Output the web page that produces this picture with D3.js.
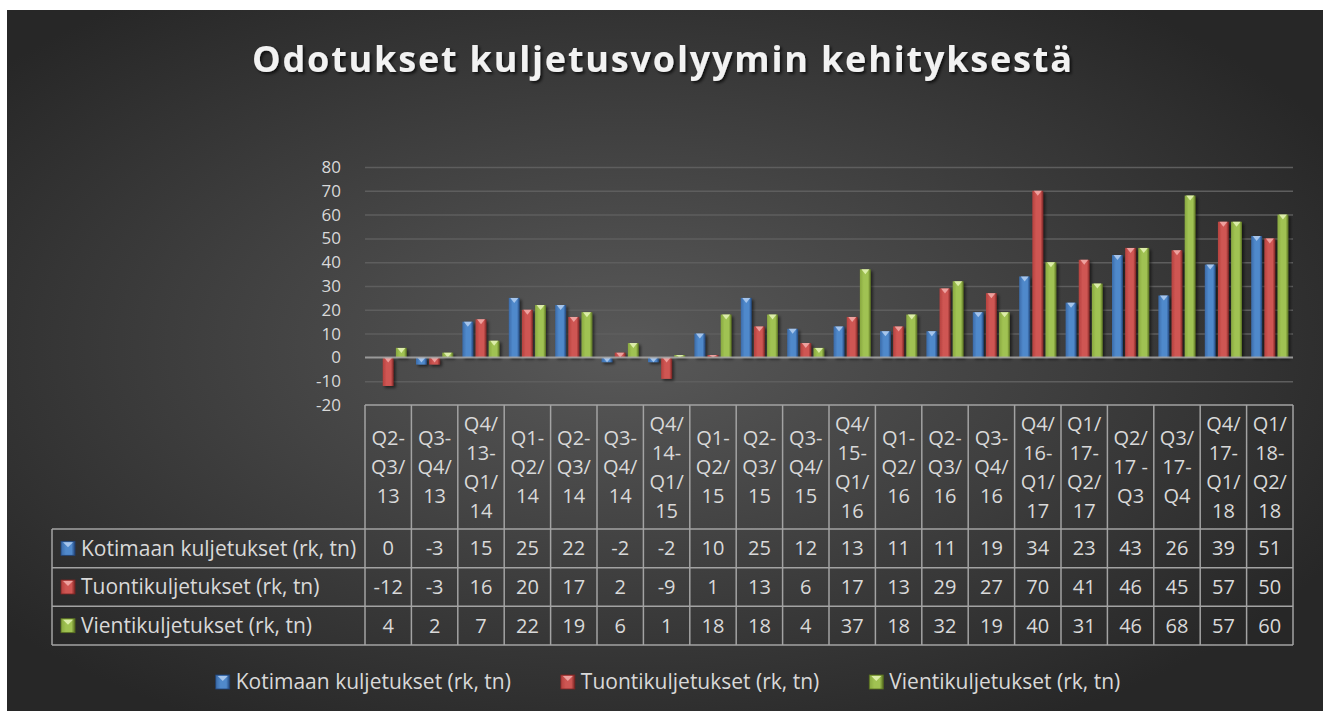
<!DOCTYPE html>
<html>
<head>
<meta charset="utf-8">
<script src="https://cdn.jsdelivr.net/npm/d3@7"></script>
<style>
body { margin: 0; background: #fff; }
svg text { font-family: "Open Sans", sans-serif; }
</style>
</head>
<body>
<div id="chart-area"></div>
<script>

// data
var categories = [
	"Q2-\nQ3/\n13", "Q3-\nQ4/\n13", "Q4/\n13-\nQ1/\n14", "Q1-\nQ2/\n14", "Q2-\nQ3/\n14",
	"Q3-\nQ4/\n14", "Q4/\n14-\nQ1/\n15", "Q1-\nQ2/\n15", "Q2-\nQ3/\n15", "Q3-\nQ4/\n15",
	"Q4/\n15-\nQ1/\n16", "Q1-\nQ2/\n16", "Q2-\nQ3/\n16", "Q3-\nQ4/\n16", "Q4/\n16-\nQ1/\n17",
	"Q1/\n17-\nQ2/\n17", "Q2/\n17 -\nQ3", "Q3/\n17-\nQ4", "Q4/\n17-\nQ1/\n18", "Q1/\n18-\nQ2/\n18"
];
var seriesNames = ["Kotimaan kuljetukset (rk, tn)", "Tuontikuljetukset (rk, tn)", "Vientikuljetukset (rk, tn)"];
var kotimaan = [0, -3, 15, 25, 22, -2, -2, 10, 25, 12, 13, 11, 11, 19, 34, 23, 43, 26, 39, 51];
var tuonti = [-12, -3, 16, 20, 17, 2, -9, 1, 13, 6, 17, 13, 29, 27, 70, 41, 46, 45, 57, 50];
var vienti = [4, 2, 7, 22, 19, 6, 1, 18, 18, 4, 37, 18, 32, 19, 40, 31, 46, 68, 57, 60];
var yTicks = [-20, -10, 0, 10, 20, 30, 40, 50, 60, 70, 80];
var title = "Odotukset kuljetusvolyymin kehityksestä";

var series = [kotimaan, tuonti, vienti];

// colours: [left edge, middle, right edge, top triangle]
var seriesColors = [
	["#3b6ba9", "#5089cb", "#22457a", "#b5d0f2"],
	["#b5413e", "#cf5653", "#7c2523", "#f3aeac"],
	["#88a840", "#a0c252", "#586f20", "#e6f4b8"]
];

var width = 1323,
	height = 711;

var plot = {left: 365, right: 1293, top: 167, bottom: 405};
var table = {left: 52, header: 529, bottom: 645, labelX: 81, markerX: 61};
var textColor = "#d9d9d9";
var lineColor = "#a3a3a3";

var svg = d3.select("#chart-area").append("svg")
	.attr("width", width)
	.attr("height", height);

var defs = svg.append("defs");

var bg = defs.append("radialGradient")
	.attr("id", "bg")
	.attr("cx", "47%").attr("cy", "48%").attr("r", "62%");
bg.append("stop").attr("offset", "0%").attr("stop-color", "#595959");
bg.append("stop").attr("offset", "100%").attr("stop-color", "#272727");

seriesColors.forEach(function(c, s) {
	var gr = defs.append("linearGradient")
		.attr("id", "grad" + s)
		.attr("x1", "0%").attr("x2", "100%").attr("y1", "0%").attr("y2", "0%");
	gr.append("stop").attr("offset", "0%").attr("stop-color", c[0]);
	gr.append("stop").attr("offset", "35%").attr("stop-color", c[1]);
	gr.append("stop").attr("offset", "75%").attr("stop-color", c[1]);
	gr.append("stop").attr("offset", "100%").attr("stop-color", c[2]);
});

var shadow = defs.append("filter").attr("id", "shadow")
	.attr("x", "-20%").attr("y", "-20%").attr("width", "160%").attr("height", "160%");
shadow.append("feDropShadow")
	.attr("dx", 2).attr("dy", 2).attr("stdDeviation", 1.5)
	.attr("flood-color", "#000").attr("flood-opacity", 0.55);

var titleShadow = defs.append("filter").attr("id", "tshadow");
titleShadow.append("feDropShadow")
	.attr("dx", 2).attr("dy", 2).attr("stdDeviation", 1.5)
	.attr("flood-color", "#000").attr("flood-opacity", 0.7);

// background
svg.append("rect")
	.attr("x", 7).attr("y", 10)
	.attr("width", width - 7).attr("height", height - 10)
	.attr("fill", "url(#bg)");

// title
svg.append("text")
	.attr("x", 662).attr("y", 72)
	.attr("text-anchor", "middle")
	.attr("font-size", 36)
	.attr("font-weight", "bold")
	.attr("fill", "#f2f2f2")
	.attr("textLength", 820)
	.attr("lengthAdjust", "spacing")
	.attr("filter", "url(#tshadow)")
	.text(title);

// scales
var x = d3.scaleBand()
	.domain(d3.range(categories.length))
	.range([plot.left, plot.right]);

var xs = d3.scaleBand()
	.domain(d3.range(series.length))
	.range([0, x.bandwidth()])
	.paddingInner(0.17)
	.paddingOuter(0.35);

var y = d3.scaleLinear()
	.domain([-20, 80])
	.range([plot.bottom, plot.top]);

// gridlines
svg.append("g")
	.attr("transform", "translate(" + plot.left + ",0)")
	.call(d3.axisLeft(y)
		.tickValues(yTicks.filter(function(v) { return v > -20 && v != 0; }))
		.tickSize(-(plot.right - plot.left))
		.tickFormat(""))
	.call(function(g) { g.select(".domain").remove(); })
	.selectAll("line")
	.attr("stroke", "#5e5e5e")
	.attr("stroke-width", 1.5);

// y labels (plain hyphen for negatives like the original)
var yAxis = svg.append("g")
	.attr("transform", "translate(" + plot.left + ",0)")
	.call(d3.axisLeft(y).tickValues(yTicks).tickSize(0).tickPadding(24)
		.tickFormat(function(d) { return String(d); }))
	.call(function(g) { g.select(".domain").remove(); });
yAxis.attr("font-size", 17).attr("font-family", null).style("color", textColor);

// bars
series.forEach(function(vals, s) {
	var g = svg.append("g").attr("filter", "url(#shadow)");
	var bw = xs.bandwidth();

	var nonZero = vals.map(function(d, i) { return {v: d, i: i}; })
		.filter(function(d) { return d.v != 0; });

	g.selectAll("rect")
		.data(nonZero)
		.enter()
		.append("rect")
		.attr("x", function(d) { return x(d.i) + xs(s); })
		.attr("y", function(d) { return y(Math.max(0, d.v)); })
		.attr("width", bw)
		.attr("height", function(d) { return Math.abs(y(d.v) - y(0)); })
		.attr("fill", "url(#grad" + s + ")");

	// little bevel triangle on top
	g.selectAll("path")
		.data(nonZero)
		.enter()
		.append("path")
		.attr("d", function(d) {
			var x0 = x(d.i) + xs(s);
			var top = y(Math.max(0, d.v));
			var h = Math.min(5, Math.abs(y(d.v) - y(0)));
			return "M" + (x0 + 1.5) + "," + top + "L" + (x0 + bw - 1.5) + "," + top +
				"L" + (x0 + bw / 2) + "," + (top + h) + "Z";
		})
		.attr("fill", seriesColors[s][3])
		.attr("opacity", 0.85);
});

// zero line
svg.append("line")
	.attr("x1", plot.left).attr("x2", plot.right)
	.attr("y1", y(0)).attr("y2", y(0))
	.attr("stroke", "#a8a8a8")
	.attr("stroke-width", 2)
	.attr("opacity", 0.85);

// data table
var rowH = (table.bottom - table.header) / series.length;
var tg = svg.append("g");

tg.append("line")
	.attr("x1", plot.left).attr("x2", plot.right)
	.attr("y1", plot.bottom).attr("y2", plot.bottom);

for (var r = 0; r <= series.length; r++) {
	tg.append("line")
		.attr("x1", table.left).attr("x2", plot.right)
		.attr("y1", table.header + r * rowH).attr("y2", table.header + r * rowH);
}
tg.append("line")
	.attr("x1", table.left).attr("x2", table.left)
	.attr("y1", table.header).attr("y2", table.bottom);

var colEdges = d3.range(categories.length).map(function(i) { return x(i); }).concat([plot.right]);
tg.selectAll("line.col")
	.data(colEdges)
	.enter()
	.append("line")
	.attr("class", "col")
	.attr("x1", function(d) { return d; }).attr("x2", function(d) { return d; })
	.attr("y1", plot.bottom).attr("y2", table.bottom);

tg.selectAll("line")
	.attr("stroke", lineColor)
	.attr("stroke-width", 1.5);

// header labels
var headerMid = (plot.bottom + table.header) / 2;
var lineStep = 29;
categories.forEach(function(c, i) {
	var lines = c.split("\n");
	var t = tg.append("text")
		.attr("text-anchor", "middle")
		.attr("font-size", 20)
		.attr("fill", textColor);
	lines.forEach(function(l, k) {
		t.append("tspan")
			.attr("x", x(i) + x.bandwidth() / 2)
			.attr("y", headerMid - (lines.length - 1) * lineStep / 2 + k * lineStep)
			.attr("dy", "0.35em")
			.text(l);
	});
});

function drawMarker(g, mx, my, s) {
	g.append("rect")
		.attr("x", mx).attr("y", my)
		.attr("width", 14).attr("height", 14)
		.attr("fill", "url(#grad" + s + ")")
		.attr("stroke", seriesColors[s][2])
		.attr("stroke-width", 0.8);
	g.append("path")
		.attr("d", "M" + (mx + 2) + "," + (my + 1) + "L" + (mx + 12) + "," + (my + 1) + "L" + (mx + 7) + "," + (my + 6) + "Z")
		.attr("fill", seriesColors[s][3])
		.attr("opacity", 0.85);
}

// table rows
series.forEach(function(vals, s) {
	var cy = table.header + (s + 0.5) * rowH;
	drawMarker(tg, table.markerX, cy - 7, s);
	tg.append("text")
		.attr("x", table.labelX).attr("y", cy)
		.attr("dy", "0.35em")
		.attr("font-size", 21)
		.attr("fill", textColor)
		.text(seriesNames[s]);
	tg.selectAll("text.v" + s)
		.data(vals)
		.enter()
		.append("text")
		.attr("class", "v" + s)
		.attr("x", function(d, i) { return x(i) + x.bandwidth() / 2; })
		.attr("y", cy)
		.attr("dy", "0.35em")
		.attr("text-anchor", "middle")
		.attr("font-size", 20)
		.attr("fill", textColor)
		.text(function(d) { return d; });
});

// legend
var legendY = 682;
var lg = svg.append("g");
var items = seriesNames.map(function(name, s) {
	var it = lg.append("g");
	drawMarker(it, 0, legendY - 7, s);
	var t = it.append("text")
		.attr("x", 20).attr("y", legendY)
		.attr("dy", "0.35em")
		.attr("font-size", 21)
		.attr("fill", textColor)
		.text(name);
	return {g: it, w: 20 + t.node().getComputedTextLength()};
});
var gap = 50;
var total = d3.sum(items, function(d) { return d.w; }) + gap * (items.length - 1);
var lx = 668 - total / 2;
items.forEach(function(it) {
	it.g.attr("transform", "translate(" + lx + ",0)");
	lx += it.w + gap;
});

</script>
</body>
</html>
